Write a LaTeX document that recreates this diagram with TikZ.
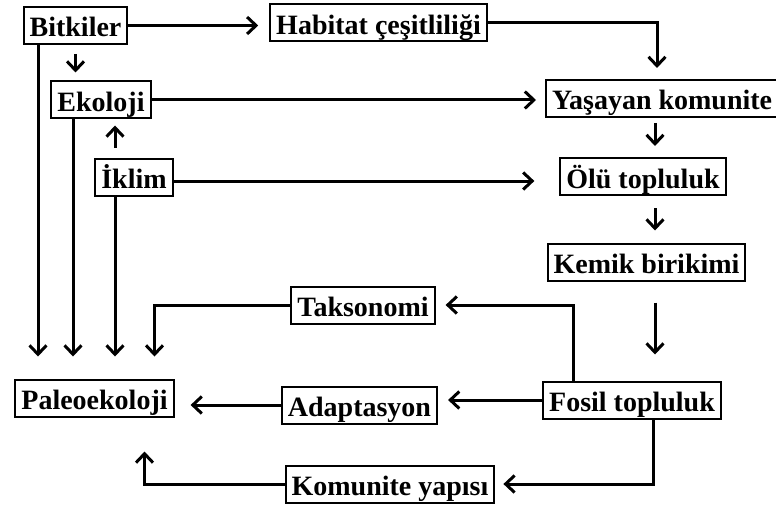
\documentclass[tikz,border=0pt]{standalone}
\usepackage{fontspec}
\setmainfont{Liberation Serif}
\usetikzlibrary{arrows.meta,calc}
\tikzstyle{box}=[draw, line width=1pt, inner xsep=3pt, inner ysep=2.5pt,
    text height=12.5pt, text depth=1pt, font=\fontsize{14}{16}\selectfont\bfseries]
\tikzstyle{arr}=[line width=1.5pt, -{Straight Barb[length=4.5pt,width=8.5pt]}]
\def\gap{4.5pt}
\def\drop{11pt}

\begin{document}
\begin{tikzpicture}[x=0.5pt,y=-0.5pt]
    \useasboundingbox (0,0) rectangle (776,508);
    \path (75.5,25.5) node (bitkiler) [box] {Bitkiler};
    \path (378.5,23) node (habitat) [box] {Habitat çeşitliliği};
    \path (101,100) node (ekoloji) [box] {Ekoloji};
    \path (545,98.5) node (yasayan) [box, anchor=west] {Yaşayan komunite};
    \path (134,177) node (iklim) [box] {İklim};
    \path (643,176.5) node (olu) [box] {Ölü topluluk};
    \path (646.5,262) node (kemik) [box] {Kemik birikimi};
    \path (363,305) node (taksonomi) [box] {Taksonomi};
    \path (632,400) node (fosil) [box] {Fosil topluluk};
    \path (94.5,398) node (paleo) [box] {Paleoekoloji};
    \path (359.5,405) node (adaptasyon) [box] {Adaptasyon};
    \path (390,484) node (komunite) [box] {Komunite yapısı};
    \coordinate (col) at (655,0);
    % upper part
    \draw [arr, shorten >=5.5pt] (bitkiler.east) -- (bitkiler.east -| habitat.west);
    \draw [arr, shorten <=4.5pt, shorten >=4pt] (bitkiler.south) -- (bitkiler.south |- ekoloji.north);
    \draw [arr, shorten <=5pt, shorten >=3pt] ([xshift=-9.5pt]iklim.north) -- ([xshift=-9.5pt]iklim.north |- ekoloji.south);
    \draw [arr, shorten >=\gap] (ekoloji.east) -- (ekoloji.east -| yasayan.west);
    \draw [arr, shorten >=12.5pt] ([yshift=-2pt]iklim.east) -- ([yshift=-2pt]iklim.east -| olu.west);
    \draw [arr, shorten >=5.5pt] (habitat.east) -| ([xshift=1pt]col |- yasayan.north);
    % column on the right
    \draw [arr, shorten <=2.5pt, shorten >=5.5pt] (col |- yasayan.south) -- (col |- olu.north);
    \draw [arr, shorten <=6pt, shorten >=6pt] (col |- olu.south) -- (col |- kemik.north);
    \draw [arr, shorten <=10.5pt, shorten >=13pt] (col |- kemik.south) -- (col |- fosil.north);
    % into Paleoekoloji
    \draw [arr, shorten >=\drop] ([xshift=-18.75pt]bitkiler.south) -- ([xshift=-18.75pt]bitkiler.south |- paleo.north);
    \draw [arr, shorten >=\drop] ([xshift=-14pt]ekoloji.south) -- ([xshift=-14pt]ekoloji.south |- paleo.north);
    \draw [arr, shorten >=\drop] ([xshift=-9.5pt]iklim.south) -- ([xshift=-9.5pt]iklim.south |- paleo.north);
    \draw [arr, shorten >=\drop] (taksonomi.west) -| ([xshift=30pt]paleo.north);
    \draw [arr, shorten >=5pt] ([xshift=-29.5pt]fosil.north) |- (taksonomi.east);
    \draw [arr, shorten >=5pt] (fosil.west) -- (fosil.west -| adaptasyon.east);
    \draw [arr, shorten >=8pt] (adaptasyon.west) -- (adaptasyon.west -| paleo.east);
    \draw [arr, shorten >=4pt] ([xshift=-1pt]col |- fosil.south) |- (komunite.east);
    \draw [arr, shorten >=17pt] (komunite.west) -| ([xshift=25pt]paleo.south);
\end{tikzpicture}
\end{document}
